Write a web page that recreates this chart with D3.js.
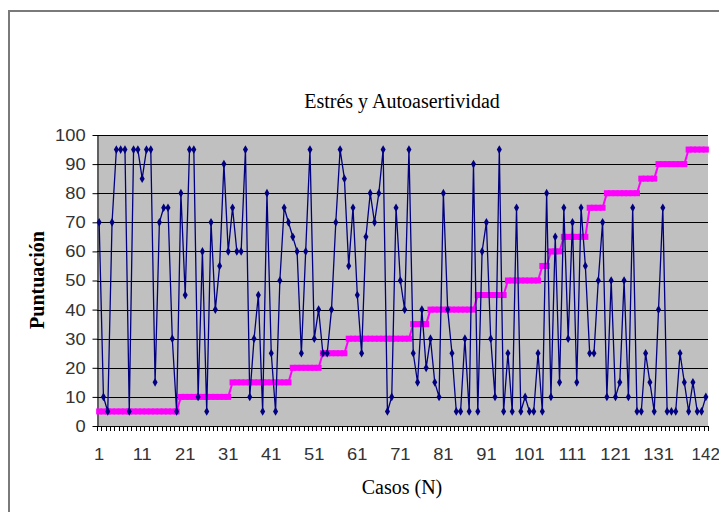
<!DOCTYPE html>
<html>
<head>
<meta charset="utf-8">
<script src="https://cdn.jsdelivr.net/npm/d3@7"></script>
<style>
  html, body { margin: 0; padding: 0; background: #ffffff; }
  svg { display: block; }
</style>
</head>
<body>
<svg id="chart" width="719" height="512"></svg>
<script>
// ---- data ----
const cases = d3.range(1, 143); // 1..142 category labels
const estres = [
  70, 10, 5, 70, 95, 95, 95, 5, 95, 95,
  85, 95, 95, 15, 70, 75, 75, 30, 5, 80,
  45, 95, 95, 10, 60, 5, 70, 40, 55, 90,
  60, 75, 60, 60, 95, 10, 30, 45, 5, 80,
  25, 5, 50, 75, 70, 65, 60, 25, 60, 95,
  30, 40, 25, 25, 40, 70, 95, 85, 55, 75,
  45, 25, 65, 80, 70, 80, 95, 5, 10, 75,
  50, 40, 95, 25, 15, 40, 20, 30, 15, 10,
  80, 40, 25, 5, 5, 30, 5, 90, 5, 60,
  70, 30, 10, 95, 5, 25, 5, 75, 5, 10,
  5, 5, 25, 5, 80, 10, 65, 15, 75, 30,
  70, 15, 75, 55, 25, 25, 50, 70, 10, 50,
  10, 15, 50, 10, 75, 5, 5, 25, 15, 5,
  40, 75, 5, 5, 5, 25, 15, 5, 15, 5,
  5, 10
];
const autoasertividad = [
  5, 5, 5, 5, 5, 5, 5, 5, 5, 5,
  5, 5, 5, 5, 5, 5, 5, 5, 5, 10,
  10, 10, 10, 10, 10, 10, 10, 10, 10, 10,
  10, 15, 15, 15, 15, 15, 15, 15, 15, 15,
  15, 15, 15, 15, 15, 20, 20, 20, 20, 20,
  20, 20, 25, 25, 25, 25, 25, 25, 30, 30,
  30, 30, 30, 30, 30, 30, 30, 30, 30, 30,
  30, 30, 30, 35, 35, 35, 35, 40, 40, 40,
  40, 40, 40, 40, 40, 40, 40, 40, 45, 45,
  45, 45, 45, 45, 45, 50, 50, 50, 50, 50,
  50, 50, 50, 55, 55, 60, 60, 60, 65, 65,
  65, 65, 65, 65, 75, 75, 75, 75, 80, 80,
  80, 80, 80, 80, 80, 80, 85, 85, 85, 85,
  90, 90, 90, 90, 90, 90, 90, 95, 95, 95,
  95, 95
];
const yTicks = [0, 10, 20, 30, 40, 50, 60, 70, 80, 90, 100];
const xTickLabels = [1, 11, 21, 31, 41, 51, 61, 71, 81, 91, 101, 111, 121, 131, 142];
const titleText = "Estrés y Autoasertividad";
const xTitle = "Casos (N)";
const yTitle = "Puntuación";

// ---- layout ----
const svg = d3.select("#chart");
const plot = { left: 97, right: 708, top: 135, bottom: 426 };

// outer chart frame (extends past the window on right and bottom)
svg.append("path")
  .attr("d", "M9,520 L9,11 L730,11")
  .attr("fill", "none")
  .attr("stroke", "#7a7a7a")
  .attr("stroke-width", 2);

const x = d3.scaleBand().domain(cases).range([plot.left, plot.right]).paddingInner(0).paddingOuter(0);
const y = d3.scaleLinear().domain([0, 100]).range([plot.bottom, plot.top]);
const cx = d => x(d) + x.bandwidth() / 2;

// plot area background
svg.append("rect")
  .attr("x", plot.left).attr("y", plot.top)
  .attr("width", plot.right - plot.left).attr("height", plot.bottom - plot.top)
  .attr("fill", "#c0c0c0");

// gridlines
svg.append("g")
  .selectAll("line")
  .data(yTicks.filter(t => t > 0))
  .join("line")
  .attr("x1", plot.left).attr("x2", plot.right)
  .attr("y1", d => Math.round(y(d)) + 0.5).attr("y2", d => Math.round(y(d)) + 0.5)
  .attr("stroke", "#000")
  .attr("stroke-width", 1);

// y axis
const yAxis = svg.append("g")
  .attr("transform", `translate(${plot.left + 0.5},0)`)
  .call(d3.axisLeft(y).tickValues(yTicks).tickSize(5).tickPadding(6).tickSizeOuter(0));
yAxis.select(".domain").attr("stroke", "#000");
yAxis.selectAll(".tick line").attr("stroke", "#000");
yAxis.selectAll(".tick text")
  .attr("font-family", "Arial, 'Liberation Sans', sans-serif")
  .attr("font-size", 17)
  .attr("fill", "#333")
  .attr("transform", "scale(1.08,1)");

// x axis: tick marks at every category boundary
const boundaries = cases.map(c => x(c)).concat([plot.right]);
svg.append("g")
  .selectAll("line")
  .data(boundaries)
  .join("line")
  .attr("x1", d => Math.round(d) + 0.5).attr("x2", d => Math.round(d) + 0.5)
  .attr("y1", plot.bottom).attr("y2", plot.bottom + 5)
  .attr("stroke", "#000")
  .attr("stroke-width", 1);
svg.append("line")
  .attr("x1", plot.left).attr("x2", plot.right)
  .attr("y1", plot.bottom + 0.5).attr("y2", plot.bottom + 0.5)
  .attr("stroke", "#000");

const xAxis = svg.append("g")
  .attr("transform", `translate(0,${plot.bottom})`)
  .call(d3.axisBottom(x).tickValues(xTickLabels).tickSize(0).tickPadding(22));
xAxis.select(".domain").remove();
xAxis.selectAll(".tick text")
  .attr("font-family", "Arial, 'Liberation Sans', sans-serif")
  .attr("font-size", 17)
  .attr("fill", "#333")
  .attr("transform", "scale(1.08,1)");
// keep the last label inside the window
xAxis.selectAll(".tick text").filter(d => d === 142)
  .attr("text-anchor", "end")
  .attr("transform", null)
  .attr("x", 14);

// series: Autoasertividad (magenta, thick)
const lineGen = d3.line().x((d, i) => cx(cases[i])).y(d => y(d));
svg.append("path")
  .datum(autoasertividad)
  .attr("d", lineGen)
  .attr("fill", "none")
  .attr("stroke", "#ff00ff")
  .attr("stroke-width", 2);
svg.append("g")
  .selectAll("rect")
  .data(autoasertividad)
  .join("rect")
  .attr("x", (d, i) => cx(cases[i]) - 3)
  .attr("y", d => y(d) - 3)
  .attr("width", 6).attr("height", 6)
  .attr("fill", "#ff00ff");

// series: Estrés (navy)
svg.append("path")
  .datum(estres)
  .attr("d", lineGen)
  .attr("fill", "none")
  .attr("stroke", "#000080")
  .attr("stroke-width", 1.3);
svg.append("g")
  .selectAll("path")
  .data(estres)
  .join("path")
  .attr("transform", (d, i) => `translate(${cx(cases[i])},${y(d)})`)
  .attr("d", d3.symbol(d3.symbolDiamond, 22)())
  .attr("fill", "#000080");

// titles
svg.append("text")
  .attr("x", 402).attr("y", 108)
  .attr("text-anchor", "middle")
  .attr("font-family", "'Liberation Serif', 'Times New Roman', serif")
  .attr("font-size", 20)
  .attr("fill", "#000")
  .text(titleText);

svg.append("text")
  .attr("x", 402).attr("y", 494)
  .attr("text-anchor", "middle")
  .attr("font-family", "'Liberation Serif', 'Times New Roman', serif")
  .attr("font-size", 20)
  .attr("fill", "#000")
  .text(xTitle);

svg.append("text")
  .attr("transform", "translate(44,280) rotate(-90)")
  .attr("text-anchor", "middle")
  .attr("font-family", "'Liberation Serif', 'Times New Roman', serif")
  .attr("font-size", 20)
  .attr("font-weight", "bold")
  .attr("fill", "#000")
  .text(yTitle);
</script>
</body>
</html>
